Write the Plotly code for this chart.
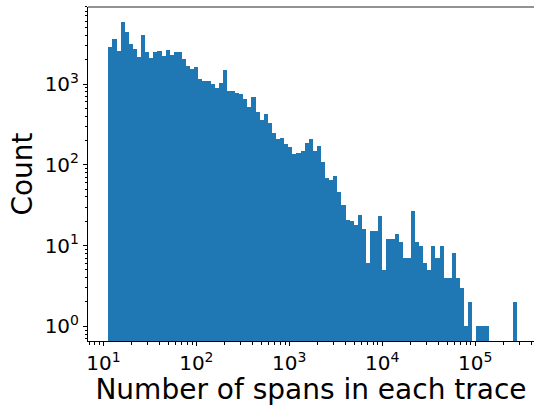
import numpy as np
import plotly.graph_objects as go

# Histogram of number of spans per trace (log-spaced bins)
bin_min = 11.3
bin_max = 284000
n_bins = 100
counts = [2874, 3612, 2565, 5870, 4411, 3132, 2715, 2180, 4049, 2492,
          2100, 2492, 2565, 2242, 2638, 2288, 2492, 2492, 2040, 1671,
          1534, 1624, 1153, 1089, 1089, 1000, 892, 1029, 1491, 819,
          819, 773, 751, 651, 519, 690, 450, 358, 425, 328,
          247, 208, 214, 180, 166, 136, 139, 148, 186, 208,
          148, 170, 108, 68, 65, 72, 46, 32, 21, 20,
          18, 24, 16, 6, 15, 15, 23, 5, 12, 12,
          14, 11, 7, 7, 27, 11, 10, 6, 5, 10,
          7, 10, 4, 4, 8, 4, 3, 1, 2, 0,
          1, 1, 1, 0, 0, 0, 0, 0, 0, 2]

x_tick_exps = [1, 2, 3, 4, 5]
y_tick_exps = [0, 1, 2, 3]

edges = np.logspace(np.log10(bin_min), np.log10(bin_max), n_bins + 1)
left = edges[:-1]
widths = edges[1:] - edges[:-1]
yvals = [c if c > 0 else None for c in counts]

fig = go.Figure()
fig.add_trace(go.Bar(
    x=left, y=yvals, width=widths, offset=0,
    marker=dict(color="#1f77b4", line=dict(width=0)),
    showlegend=False,
))

def minor_vals(lo, hi):
    out = []
    for k in range(lo, hi + 1):
        for m in range(2, 10):
            out.append(m * 10.0 ** k)
    return out

font_family = "DejaVu Sans"
fig.update_layout(
    width=534, height=406,
    margin=dict(l=88, r=0, t=7, b=65),
    paper_bgcolor="white", plot_bgcolor="white",
    bargap=0,
    font=dict(family=font_family, color="black"),
    xaxis=dict(
        type="log", range=[0.834, 5.6336],
        tickmode="array",
        tickvals=[10 ** e for e in x_tick_exps],
        ticktext=[f"10<sup>{e}</sup>" for e in x_tick_exps],
        ticks="outside", ticklen=4, tickwidth=1, tickcolor="black",
        tickfont=dict(size=20, family=font_family),
        minor=dict(tickmode="array", tickvals=minor_vals(0, 5),
                   ticks="outside", ticklen=2.5, tickwidth=0.8, tickcolor="black"),
        showline=True, linecolor="black", linewidth=1,
        showgrid=False, zeroline=False,
        title=dict(text="Number of spans in each trace",
                   font=dict(size=28, family=font_family), standoff=0),
    ),
    yaxis=dict(
        type="log", range=[-0.182, 3.954],
        tickmode="array",
        tickvals=[10 ** e for e in y_tick_exps],
        ticktext=[f"10<sup>{e}</sup>" for e in y_tick_exps],
        ticks="outside", ticklen=4, tickwidth=1, tickcolor="black",
        tickfont=dict(size=20, family=font_family),
        minor=dict(tickmode="array", tickvals=minor_vals(-1, 3),
                   ticks="outside", ticklen=2.5, tickwidth=0.8, tickcolor="black"),
        showline=True, linecolor="black", linewidth=1,
        showgrid=False, zeroline=False,
        title=dict(text="Count", font=dict(size=28, family=font_family), standoff=3),
    ),
    shapes=[dict(type="line", xref="paper", yref="paper", x0=0, x1=1, y0=1, y1=1,
                 line=dict(color="rgb(110,110,110)", width=1.5))],
)

fig.write_html("out.html")
